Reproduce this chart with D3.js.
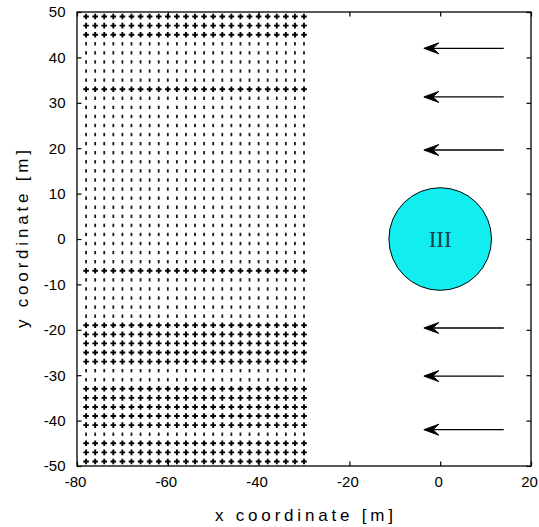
<!DOCTYPE html>
<html>
<head>
<meta charset="utf-8">
<script src="https://cdn.jsdelivr.net/npm/d3@7"></script>
<style>
  html, body { margin: 0; padding: 0; background: #ffffff; }
  svg { display: block; }
  text { font-family: "Liberation Sans", Arial, sans-serif; fill: #000; }
</style>
</head>
<body>
<svg id="chart" width="539" height="527"></svg>
<script>
// ---- data ----
const xTicks = [-80, -60, -40, -20, 0, 20];
const yTicks = [-50, -40, -30, -20, -10, 0, 10, 20, 30, 40, 50];
const gridX = [-78, -76, -74, -72, -70, -68, -66, -64, -62, -60, -58, -56, -54, -52, -50, -48, -46, -44, -42, -40, -38, -36, -34, -32, -30];
const gridY = [49, 47, 45, 43, 41, 39, 37, 35, 33, 31, 29, 27, 25, 23, 21, 19, 17, 15, 13, 11, 9, 7, 5, 3, 1,
               -1, -3, -5, -7, -9, -11, -13, -15, -17, -19, -21, -23, -25, -27, -29, -31, -33, -35, -37, -39, -41, -43, -45, -47, -49];
const denseRows = [49, 47, 45, 33, -7, -19, -21, -23, -25, -27, -33, -35, -37, -39, -41, -45, -47, -49];
const arrowY = [42, 31.3, 19.6, -19.6, -30.2, -42];
const arrowTailX = [14, 14, 14, 14, 14, 14];
const arrowTipX = [-3.6, -3.6, -3.6, -3.6, -3.6, -3.6];
const circleCenter = [0, 0];
const circleRadius = 11.3;
const circleLabel = "III";
const xLabel = "x coordinate [m]";
const yLabel = "y coordinate [m]";

// ---- layout ----
const W = 539, H = 527;
const margin = { left: 77, right: 8, top: 12, bottom: 61 };
const iw = W - margin.left - margin.right;
const ih = H - margin.top - margin.bottom;

const svg = d3.select("#chart");
const g = svg.append("g").attr("transform", `translate(${margin.left},${margin.top})`);

const x = d3.scaleLinear().domain([-80, 20]).range([0, iw]);
const y = d3.scaleLinear().domain([-50, 50]).range([ih, 0]);

// grid points
const pts = [];
gridY.forEach(gy => gridX.forEach(gx => pts.push({ x: gx, y: gy, dense: denseRows.includes(gy) })));

const light = pts.filter(p => !p.dense);
const dense = pts.filter(p => p.dense);

g.append("g").selectAll("rect").data(light).join("rect")
  .attr("x", d => x(d.x) - 0.9)
  .attr("y", d => y(d.y) - 1.7)
  .attr("width", 1.8)
  .attr("height", 3.4)
  .attr("fill", "#1a1a1a");

const plus = g.append("g").attr("stroke", "#000").attr("stroke-width", 1.9);
plus.selectAll("path").data(dense).join("path")
  .attr("d", d => {
    const cx = x(d.x), cy = y(d.y), a = 2.8;
    return `M${cx - a},${cy}H${cx + a}M${cx},${cy - a}V${cy + a}`;
  });

// circle
const rpx = x(circleRadius) - x(0);
g.append("circle")
  .attr("cx", x(circleCenter[0]))
  .attr("cy", y(circleCenter[1]))
  .attr("r", rpx)
  .attr("fill", "#12eef0")
  .attr("stroke", "#000")
  .attr("stroke-width", 1);
g.append("text")
  .attr("x", x(circleCenter[0]))
  .attr("y", y(circleCenter[1]) + 8)
  .attr("text-anchor", "middle")
  .style("font-family", "'Liberation Serif', 'Times New Roman', serif")
  .style("font-size", "23px")
  .style("fill", "#16414f")
  .text(circleLabel);

// arrows
const arrows = arrowY.map((ay, i) => ({ y: ay, x0: arrowTailX[i], x1: arrowTipX[i] }));
const ag = g.append("g");
ag.selectAll("line").data(arrows).join("line")
  .attr("x1", d => x(d.x0)).attr("y1", d => y(d.y))
  .attr("x2", d => x(d.x1) + 6).attr("y2", d => y(d.y))
  .attr("stroke", "#000").attr("stroke-width", 1.3);
ag.selectAll("path").data(arrows).join("path")
  .attr("d", d => {
    const tx = x(d.x1), ty = y(d.y);
    return `M${tx},${ty}L${tx + 15},${ty - 5.5}L${tx + 9},${ty}L${tx + 15},${ty + 5.5}Z`;
  })
  .attr("fill", "#000").attr("stroke", "#000").attr("stroke-width", 1);

// axes box
g.append("rect").attr("x", 0).attr("y", 0).attr("width", iw).attr("height", ih)
  .attr("fill", "none").attr("stroke", "#000").attr("stroke-width", 1.3);

const tl = 4.5;
const fmt = d => d < 0 ? "-" + Math.abs(d) : String(d);
const axB = d3.axisBottom(x).tickValues(xTicks).tickSize(-tl).tickPadding(tl + 6).tickFormat(fmt);
const axT = d3.axisTop(x).tickValues(xTicks).tickSize(-tl).tickFormat("");
const axL = d3.axisLeft(y).tickValues(yTicks).tickSize(-tl).tickPadding(tl + 7).tickFormat(fmt);
const axR = d3.axisRight(y).tickValues(yTicks).tickSize(-tl).tickFormat("");

function style(sel) {
  sel.select(".domain").remove();
  sel.selectAll(".tick line").attr("stroke", "#000").attr("stroke-width", 1.2);
  sel.selectAll(".tick text").style("font-family", "'Liberation Sans', Arial, sans-serif")
    .style("font-size", "15px").attr("fill", "#000");
}
g.append("g").attr("transform", `translate(0,${ih})`).call(axB).call(style)
  .selectAll(".tick text").attr("dx", -2);
g.append("g").call(axT).call(style);
g.append("g").call(axL).call(style);
g.append("g").attr("transform", `translate(${iw},0)`).call(axR).call(style);

// axis labels
svg.append("text")
  .attr("x", margin.left + iw / 2)
  .attr("y", 521)
  .attr("text-anchor", "middle")
  .style("font-size", "17px")
  .attr("textLength", 178)
  .attr("lengthAdjust", "spacing")
  .text(xLabel);
svg.append("text")
  .attr("transform", `translate(28,${margin.top + ih / 2}) rotate(-90)`)
  .attr("text-anchor", "middle")
  .style("font-size", "17px")
  .attr("textLength", 178)
  .attr("lengthAdjust", "spacing")
  .text(yLabel);
</script>
</body>
</html>
